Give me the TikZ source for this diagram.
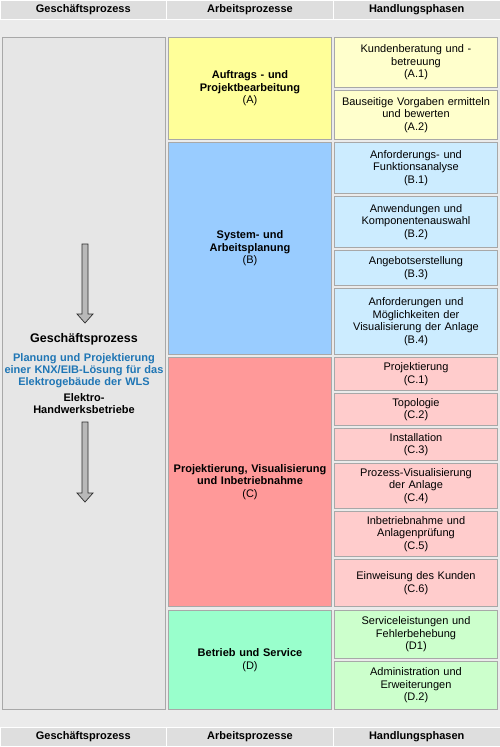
\documentclass[tikz,border=0pt]{standalone}
\usepackage{fontspec}
\setmainfont{Liberation Sans}
\definecolor{headgray}{HTML}{DEDEDE}
\definecolor{bandgray}{HTML}{EBEBEB}
\definecolor{leftgray}{HTML}{E6E6E6}
\definecolor{framegray}{HTML}{A8A8A8}
\definecolor{kblue}{RGB}{31,118,181}
\definecolor{procA}{HTML}{FFFF99}
\definecolor{phaseA}{HTML}{FFFFCC}
\definecolor{procB}{HTML}{99CCFF}
\definecolor{phaseB}{HTML}{CCECFF}
\definecolor{procC}{HTML}{FF9999}
\definecolor{phaseC}{HTML}{FFCCCC}
\definecolor{procD}{HTML}{99FFCC}
\definecolor{phaseD}{HTML}{CCFFCC}
\begin{document}
\begin{tikzpicture}[
    x=1pt, y=-1pt,
    box/.style={rectangle, draw=framegray, line width=1.3pt, inner sep=1pt, minimum width=163pt, text width=160pt, align=center, font=\fontsize{11}{12.5}\selectfont},
    gp/.style={box, fill=leftgray, inner sep=0pt, text width=163pt, font=\fontsize{11}{12}\selectfont},
    head/.style={rectangle, fill=headgray, draw=white, line width=0.6pt, minimum width=166.7pt, minimum height=19pt, inner sep=0pt, font=\fontsize{11}{12}\selectfont\bfseries},
    bigarrow/.style={fill=gray!55, draw=gray!35!black, line width=0.7pt}
]

% Background and frame
\fill[bandgray] (0,0) rectangle (500,747);
\useasboundingbox (0,0) rectangle (500,747);

% Column heads
\node[head] (head_gp) at (83.3,9.5) {Geschäftsprozess};
\node[head] (head_ap) at (250,9.5) {Arbeitsprozesse};
\node[head] (head_hp) at (416.7,9.5) {Handlungsphasen};

\node[head] (foot_gp) at (83.3,736.5) {Geschäftsprozess};
\node[head] (foot_ap) at (250,736.5) {Arbeitsprozesse};
\node[head] (foot_hp) at (416.7,736.5) {Handlungsphasen};

% Geschaeftsprozess
\node[gp, minimum height=672pt] (process) at (84,373.5) {{\fontsize{12.5}{12}\selectfont\bfseries Geschäftsprozess}\\[7pt]
    {\bfseries\color{kblue}Planung und Projektierung\\einer KNX/EIB-Lösung für das\\Elektrogebäude der WLS}\\[4pt]
    \textbf{Elektro-\\Handwerksbetriebe}};

\filldraw[bigarrow] (82,244) -- (88,244) -- (88,314) -- (93,314) -- (85,323) -- (77,314) -- (82,314) -- cycle;
\filldraw[bigarrow] (82,422) -- (88,422) -- (88,493) -- (93,493) -- (85,502) -- (77,493) -- (82,493) -- cycle;

% Arbeitsprozesse
\node[box, fill=procA, minimum height=102pt] (procA) at (250,88.5) {\textbf{Auftrags - und\\Projektbearbeitung}\\(A)};
\node[box, fill=procB, minimum height=212pt] (procB) at (250,248.5) {\textbf{System- und\\Arbeitsplanung}\\(B)};
\node[box, fill=procC, minimum height=249pt] (procC) at (250,482) {\textbf{Projektierung, Visualisierung\\und Inbetriebnahme}\\(C)};
\node[box, fill=procD, minimum height=99pt] (procD) at (250,660) {\textbf{Betrieb und Service}\\(D)};

% Handlungsphasen
\node[box, fill=phaseA, minimum height=50pt] (a1) at (416,62.5) {Kundenberatung und -\\betreuung\\(A.1)};
\node[box, fill=phaseA, minimum height=49pt] (a2) at (416,115) {Bauseitige Vorgaben ermitteln\\und bewerten\\(A.2)};

\node[box, fill=phaseB, minimum height=51pt] (b1) at (416,168) {Anforderungs- und\\Funktionsanalyse\\(B.1)};
\node[box, fill=phaseB, minimum height=51pt] (b2) at (416,222) {Anwendungen und\\Komponentenauswahl\\(B.2)};
\node[box, fill=phaseB, minimum height=35pt] (b3) at (416,268) {Angebotserstellung\\(B.3)};
\node[box, fill=phaseB, minimum height=66pt] (b4) at (416,321.5) {Anforderungen und\\Möglichkeiten der\\Visualisierung der Anlage\\(B.4)};

\node[box, fill=phaseC, minimum height=33pt] (c1) at (416,374) {Projektierung\\(C.1)};
\node[box, fill=phaseC, minimum height=32pt] (c2) at (416,409.5) {Topologie\\(C.2)};
\node[box, fill=phaseC, minimum height=32pt] (c3) at (416,444.5) {Installation\\(C.3)};
\node[box, fill=phaseC, minimum height=45pt] (c4) at (416,486) {Prozess-Visualisierung\\der Anlage\\(C.4)};
\node[box, fill=phaseC, minimum height=45pt] (c5) at (416,534) {Inbetriebnahme und\\Anlagenprüfung\\(C.5)};
\node[box, fill=phaseC, minimum height=47pt] (c6) at (416,583) {Einweisung des Kunden\\(C.6)};

\node[box, fill=phaseD, minimum height=48pt] (d1) at (416,634.5) {Serviceleistungen und\\Fehlerbehebung\\(D1)};
\node[box, fill=phaseD, minimum height=48pt] (d2) at (416,685.5) {Administration und\\Erweiterungen\\(D.2)};

\end{tikzpicture}
\end{document}
